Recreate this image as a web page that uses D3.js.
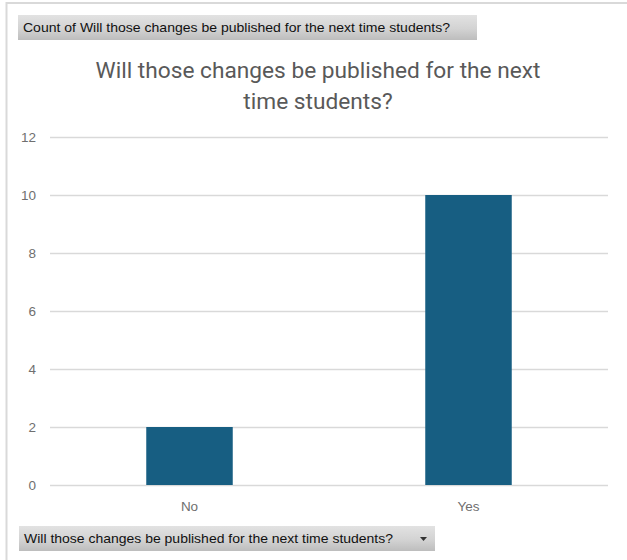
<!DOCTYPE html>
<html>
<head>
<meta charset="utf-8">
<script src="https://cdn.jsdelivr.net/npm/d3@7"></script>
<style>
  body { margin: 0; background: #fff; }
</style>
</head>
<body>
<div id="chart"></div>
<script>
// chart data
var categories = ["No", "Yes"];
var counts = [2, 10];
var yTicks = [0, 2, 4, 6, 8, 10, 12];
var titleLines = ["Will those changes be published for the next", "time students?"];
var fieldLabel = "Count of Will those changes be published for the next time students?";
var axisField = "Will those changes be published for the next time students?";

var W = 627, H = 560;
var margin = {top: 137, right: 19, bottom: 75, left: 50},
    width = W - margin.left - margin.right,
    height = H - margin.top - margin.bottom;

var root = d3.select("#chart")
  .append("svg")
    .attr("width", W)
    .attr("height", H)
    .style("font-family", "Roboto, 'Open Sans', sans-serif");

var defs = root.append("defs");
var grad = defs.append("linearGradient")
    .attr("id", "btn")
    .attr("x1", 0).attr("x2", 0).attr("y1", 0).attr("y2", 1);
grad.append("stop").attr("offset", "0%").attr("stop-color", "#e2e2e2");
grad.append("stop").attr("offset", "55%").attr("stop-color", "#d3d3d3");
grad.append("stop").attr("offset", "100%").attr("stop-color", "#bdbdbd");

// outer frame (left + top edges)
root.append("line").attr("x1", 6.5).attr("x2", 6.5).attr("y1", 2).attr("y2", H)
    .attr("stroke", "#d9d9d9").attr("stroke-width", 2);
root.append("line").attr("x1", 6).attr("x2", W).attr("y1", 3).attr("y2", 3)
    .attr("stroke", "#d9d9d9").attr("stroke-width", 2);

// field button at top
root.append("rect").attr("x", 18).attr("y", 15).attr("width", 459).attr("height", 25)
    .attr("fill", "url(#btn)");
root.append("text").attr("x", 23).attr("y", 32)
    .attr("font-size", 13)
    .attr("font-family", "'Liberation Sans', 'DejaVu Sans', sans-serif")
    .attr("textLength", 427)
    .attr("lengthAdjust", "spacingAndGlyphs")
    .attr("fill", "#111")
    .text(fieldLabel);

// title
root.append("g").selectAll("text")
  .data(titleLines)
  .enter()
  .append("text")
    .attr("x", 318)
    .attr("y", function(d, i) { return 78 + i * 31; })
    .attr("text-anchor", "middle")
    .attr("font-size", 22.7)
    .attr("fill", "#595959")
    .text(function(d) { return d; });

var svg = root.append("g")
    .attr("transform", `translate(${margin.left},${margin.top})`);

var x = d3.scaleBand()
    .domain(categories)
    .range([0, width])
    .paddingInner(0.69)
    .paddingOuter(0.345);

var y = d3.scaleLinear()
    .domain([0, 12])
    .range([height, 0]);

// gridlines
svg.append("g")
    .call(d3.axisLeft(y).tickValues(yTicks).tickSize(-width).tickFormat(""))
    .call(function(g) { g.select(".domain").remove(); })
    .call(function(g) { g.selectAll("line").attr("stroke", "#d9d9d9").attr("stroke-width", 1.5); });

// y labels
svg.append("g")
    .call(d3.axisLeft(y).tickValues(yTicks).tickSize(0).tickPadding(14))
    .call(function(g) { g.select(".domain").remove(); })
    .call(function(g) {
      g.selectAll("text").attr("fill", "#6f6f6f").attr("font-size", 13.5)
        .attr("font-family", "'Liberation Sans', Arial, sans-serif");
    });

// bars
svg.append("g")
  .selectAll("rect")
  .data(counts)
  .enter()
  .append("rect")
    .attr("x", function(d, i) { return x(categories[i]); })
    .attr("y", function(d) { return y(d); })
    .attr("width", x.bandwidth())
    .attr("height", function(d) { return height - y(d); })
    .attr("fill", "#175e82");

// x labels
svg.append("g")
    .attr("transform", `translate(0, ${height})`)
    .call(d3.axisBottom(x).tickSize(0).tickPadding(16))
    .call(function(g) { g.select(".domain").remove(); })
    .call(function(g) {
      g.selectAll("text").attr("fill", "#6f6f6f").attr("font-size", 13.5)
        .attr("font-family", "'Liberation Sans', Arial, sans-serif");
    });

// axis field button at bottom
root.append("rect").attr("x", 19).attr("y", 526).attr("width", 416).attr("height", 25)
    .attr("fill", "url(#btn)");
root.append("text").attr("x", 24).attr("y", 543)
    .attr("font-size", 13)
    .attr("font-family", "'Liberation Sans', 'DejaVu Sans', sans-serif")
    .attr("textLength", 369)
    .attr("lengthAdjust", "spacingAndGlyphs")
    .attr("fill", "#111")
    .text(axisField);
root.append("path")
    .attr("d", "M420,537 L427,537 L423.5,541 Z")
    .attr("fill", "#333");
</script>
</body>
</html>
